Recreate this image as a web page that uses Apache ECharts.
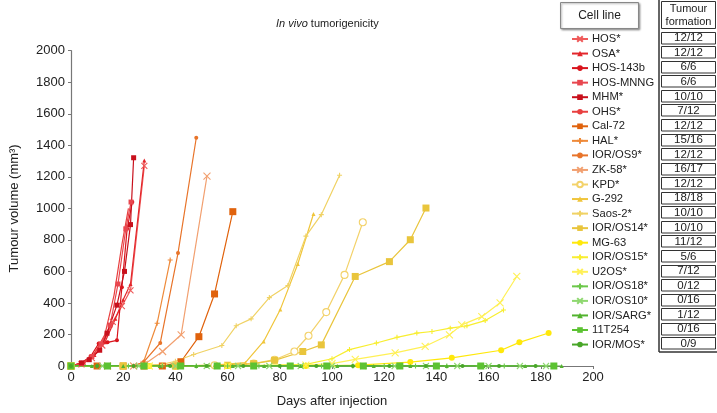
<!DOCTYPE html>
<html><head><meta charset="utf-8">
<script src="https://cdn.jsdelivr.net/npm/echarts@6/dist/echarts.min.js"></script>
<style>html,body{margin:0;padding:0;background:#fff}#c{width:717px;height:413px}</style>
</head><body><div id="c"></div>
<script>
// ---- data ----
const cellLines = ['HOS*','OSA*','HOS-143b','HOS-MNNG','MHM*','OHS*','Cal-72','HAL*','IOR/OS9*','ZK-58*','KPD*','G-292','Saos-2*','IOR/OS14*','MG-63','IOR/OS15*','U2OS*','IOR/OS18*','IOR/OS10*','IOR/SARG*','11T254','IOR/MOS*'];
const tumourFormation = ['12/12','12/12','6/6','6/6','10/10','7/12','12/12','15/16','12/12','16/17','12/12','18/18','10/10','10/10','11/12','5/6','7/12','0/12','0/16','1/12','0/16','0/9'];
const xTicks = [0,20,40,60,80,100,120,140,160,180,200];
const yTicks = [0,200,400,600,800,1000,1200,1400,1600,1800,2000];

const HOS      = [[0,0],[4,10],[8,50],[12,130],[16,280],[19.5,380],[22.8,480],[28.1,1269]];
const OSA      = [[0,0],[5,20],[9,70],[13,150],[17,300],[20,420],[22.8,520],[28.1,1304]];
const HOS143b  = [[0,0],[4,20],[7.5,60],[10.6,142],[14,150],[17.6,163],[19.5,500],[21.5,870],[23.5,1040]];
const HOSMNNG  = [[0,0],[4,15],[8,60],[11.5,140],[15,260],[18,520],[21,870],[23,1040]];
const MHM      = [[0,0],[4,20],[7,40],[11,100],[13.8,208],[17.6,386],[20.5,600],[22.8,897],[24,1321]];
const OHS      = [[0,0],[5,20],[9,80],[13,200],[16.5,450],[19.5,770],[22,1000]];
const Cal72    = [[0,0],[10,0],[20,0],[28,0],[35,0],[42.1,27],[49,186],[55,457],[62,979]];
const HAL      = [[0,0],[14,0],[24,0],[27.8,25],[33,271],[38,672]];
const IOROS9   = [[0,0],[14,0],[24,0],[27.8,25],[34.2,146],[41,716],[48,1448]];
const ZK58     = [[0,0],[14,0],[24,0],[28,10],[35.1,92],[42.2,198],[52.1,1204]];
const KPD      = [[0,0],[20,0],[40,0],[55,5],[70,15],[78,40],[85.6,92],[91,192],[97.8,342],[104.8,578],[111.8,912]];
const G292     = [[0,0],[20,0],[40,0],[55,5],[66.8,21],[73.8,156],[80.2,359],[86.9,647],[92.9,964]];
const Saos2    = [[0,0],[20,0],[35,10],[40,30],[47,73],[57.8,130],[63.3,255],[69,299],[76,434],[83.1,511],[90,824],[95.9,960],[102.9,1210]];
const IOROS14  = [[0,0],[20,0],[40,0],[60,5],[70,15],[78,36],[88.8,92],[95.9,134],[108.9,568],[122,662],[130,801],[136,1002]];
const MG63     = [[0,0],[30,0],[60,0],[90,0],[110,5],[130,25],[145.9,52],[164.8,100],[171.8,150],[183,209]];
const IOROS15  = [[0,0],[30,0],[60,0],[90,10],[100,46],[106.7,104],[117,146],[124.9,182],[132.5,209],[138.3,219],[145.3,240],[151.7,255],[158.7,288],[165.7,355]];
const U2OS     = [[0,0],[30,0],[60,0],[90,5],[100,15],[108.9,42],[124.2,83],[135.7,125],[145,198],[149.7,261],[157.4,313],[164.4,401],[170.8,568]];
const IOROS18  = [[0,0],[10,0],[22,0],[35,0],[48,0],[60,0],[72,0],[84,0],[96,0],[108,0],[120,0],[132,0],[144,0],[156,0],[166,0]];
const IOROS10  = [[0,0],[12,0],[26,0],[40,0],[52,0],[64,0],[76,0],[88,0],[100,0],[112,0],[124,0],[136,0],[148,0],[160,0],[172,0],[182,0]];
const IORSARG  = [[0,0],[8,0],[20,0],[34,0],[48,0],[62,0],[74,0],[88,0],[102,0],[116,0],[130,0],[144,0],[158,0],[174,0],[188,0]];
const T11254   = [[0,0],[14,0],[28,0],[42,0],[56,0],[70,0],[84,0],[98,0],[112,0],[126,0],[140,0],[157,0],[185,0]];
const IORMOS   = [[0,0],[10,0],[24,0],[38,0],[52,0],[66,0],[80,0],[94,0],[108,0],[122,0],[136,0],[150,0],[164,0],[178,0]];

const seriesData = [HOS,OSA,HOS143b,HOSMNNG,MHM,OHS,Cal72,HAL,IOROS9,ZK58,KPD,G292,Saos2,IOROS14,MG63,IOROS15,U2OS,IOROS18,IOROS10,IORSARG,T11254,IORMOS];
const colors = ['#ef5a5a','#e3262b','#d9141c','#e8474f','#c8101c','#e84040','#e0620c','#ee8a3a','#e8742a','#f2a070','#f3d26a','#f0c53a','#f0d264','#e9c53c','#ffe80a','#f8ee30','#fff055','#6cc84a','#8fd870','#52b32e','#5cc232','#48a628'];
const X = 'path://M-1,-1L1,1M-1,1L1,-1';
const P = 'path://M0,-1L0,1M-1,0L1,0';
const symbols = [X,'triangle','circle','rect','rect','none','rect',P,'circle',X,'circle','triangle',P,'rect','circle',P,X,P,X,'triangle','rect','circle'];
const hollow  = [false,false,false,false,false,false,false,false,false,false,true,false,false,false,false,false,false,false,false,false,false,false];
const sizes = [6,4,4,5,5,3,7,5,4,7,7,4,5,7,6,5,7,5,6,4,7,4];

const FONT = '"Liberation Sans", Arial, Helvetica, sans-serif';
const chart = echarts.init(document.getElementById('c'), null, {renderer:'canvas'});

const series = cellLines.map((name,i)=>{
  const isPath = symbols[i].startsWith('path');
  return {
    name, type:'line', data: seriesData[i], symbol: symbols[i], symbolSize: sizes[i],
    z: 2, zlevel: 0,
    color: colors[i],
    lineStyle:{color:colors[i], width:1.2},
    itemStyle:{color: hollow[i] ? '#ffffff' : colors[i], borderColor:colors[i], borderWidth: (isPath||hollow[i])?1.1:0},
    emphasis:{disabled:true}
  };
});

// table graphics
const rowY0 = 37.7, rowStep = 14.55;
const graphics = [];
graphics.push({type:'rect', shape:{x:560.5,y:2.5,width:78,height:26}, style:{fill:'#fff',stroke:'#888',lineWidth:1, shadowBlur:2, shadowOffsetX:1, shadowOffsetY:1, shadowColor:'rgba(0,0,0,0.35)'}});
graphics.push({type:'text', style:{text:'Cell line', x:599.5, y:15.5, textAlign:'center', textVerticalAlign:'middle', font:'12px '+FONT, fill:'#222'}});
graphics.push({type:'line', shape:{x1:659,y1:0,x2:659,y2:352}, style:{stroke:'#333',lineWidth:1.5}});
graphics.push({type:'line', shape:{x1:659,y1:352,x2:717,y2:352}, style:{stroke:'#333',lineWidth:1.5}});
graphics.push({type:'rect', shape:{x:661.5,y:1.5,width:54,height:27}, style:{fill:'#fff',stroke:'#333',lineWidth:1}});
graphics.push({type:'text', style:{text:'Tumour\nformation', x:688.5, y:15, textAlign:'center', textVerticalAlign:'middle', font:'11px '+FONT, fill:'#222', lineHeight:13}});
tumourFormation.forEach((t,i)=>{
  const cy = rowY0 + rowStep*i;
  graphics.push({type:'rect', shape:{x:661.5,y:Math.round(cy-6)+0.5,width:54,height:11.5}, style:{fill:'#fff',stroke:'#333',lineWidth:1}});
  graphics.push({type:'text', style:{text:t, x:688.5, y:cy+0.5, textAlign:'center', textVerticalAlign:'middle', font:'11.5px '+FONT, fill:'#222'}});
});

chart.setOption({
  animation:false,
  backgroundColor:'#fff',
  color: colors,
  title:{ text:'{i|In vivo} tumorigenicity', left:271, top:13,
    textStyle:{fontSize:11, fontWeight:'normal', color:'#222', fontFamily:FONT, rich:{i:{fontStyle:'italic', fontSize:11, color:'#222', fontFamily:FONT}}}},
  grid:{left:70.7, right:124, top:50.7, bottom:43, containLabel:false},
  legend:{ orient:'vertical', left:566, top:28, itemWidth:16, itemHeight:7, itemGap:2.55,
    data: cellLines, selectedMode:false,
    textStyle:{fontSize:11.2, color:'#222', fontFamily:FONT, lineHeight:12, padding:[0,0,0,-1]}},
  xAxis:{ type:'value', min:0, max:200, interval:20,
    name:'Days after injection', nameLocation:'middle', nameGap:29,
    nameTextStyle:{fontSize:13, color:'#222', fontFamily:FONT},
    axisLine:{lineStyle:{color:'#777', width:1.2}}, axisTick:{show:true, length:3, lineStyle:{color:'#777'}},
    axisLabel:{fontSize:13, color:'#222', fontFamily:FONT, margin:5, formatter:v=>String(v)}, splitLine:{show:false}},
  yAxis:{ type:'value', min:0, max:2000, interval:200,
    name:'Tumour volume (mm³)', nameLocation:'middle', nameGap:50, nameRotate:90,
    nameTextStyle:{fontSize:13, color:'#222', fontFamily:FONT},
    axisLine:{show:true, lineStyle:{color:'#777', width:1.2}}, axisTick:{show:true, length:3, lineStyle:{color:'#777'}},
    axisLabel:{fontSize:13, color:'#222', fontFamily:FONT, margin:6, formatter:v=>String(v)}, splitLine:{show:false}},
  series,
  graphic: graphics
});
</script></body></html>
